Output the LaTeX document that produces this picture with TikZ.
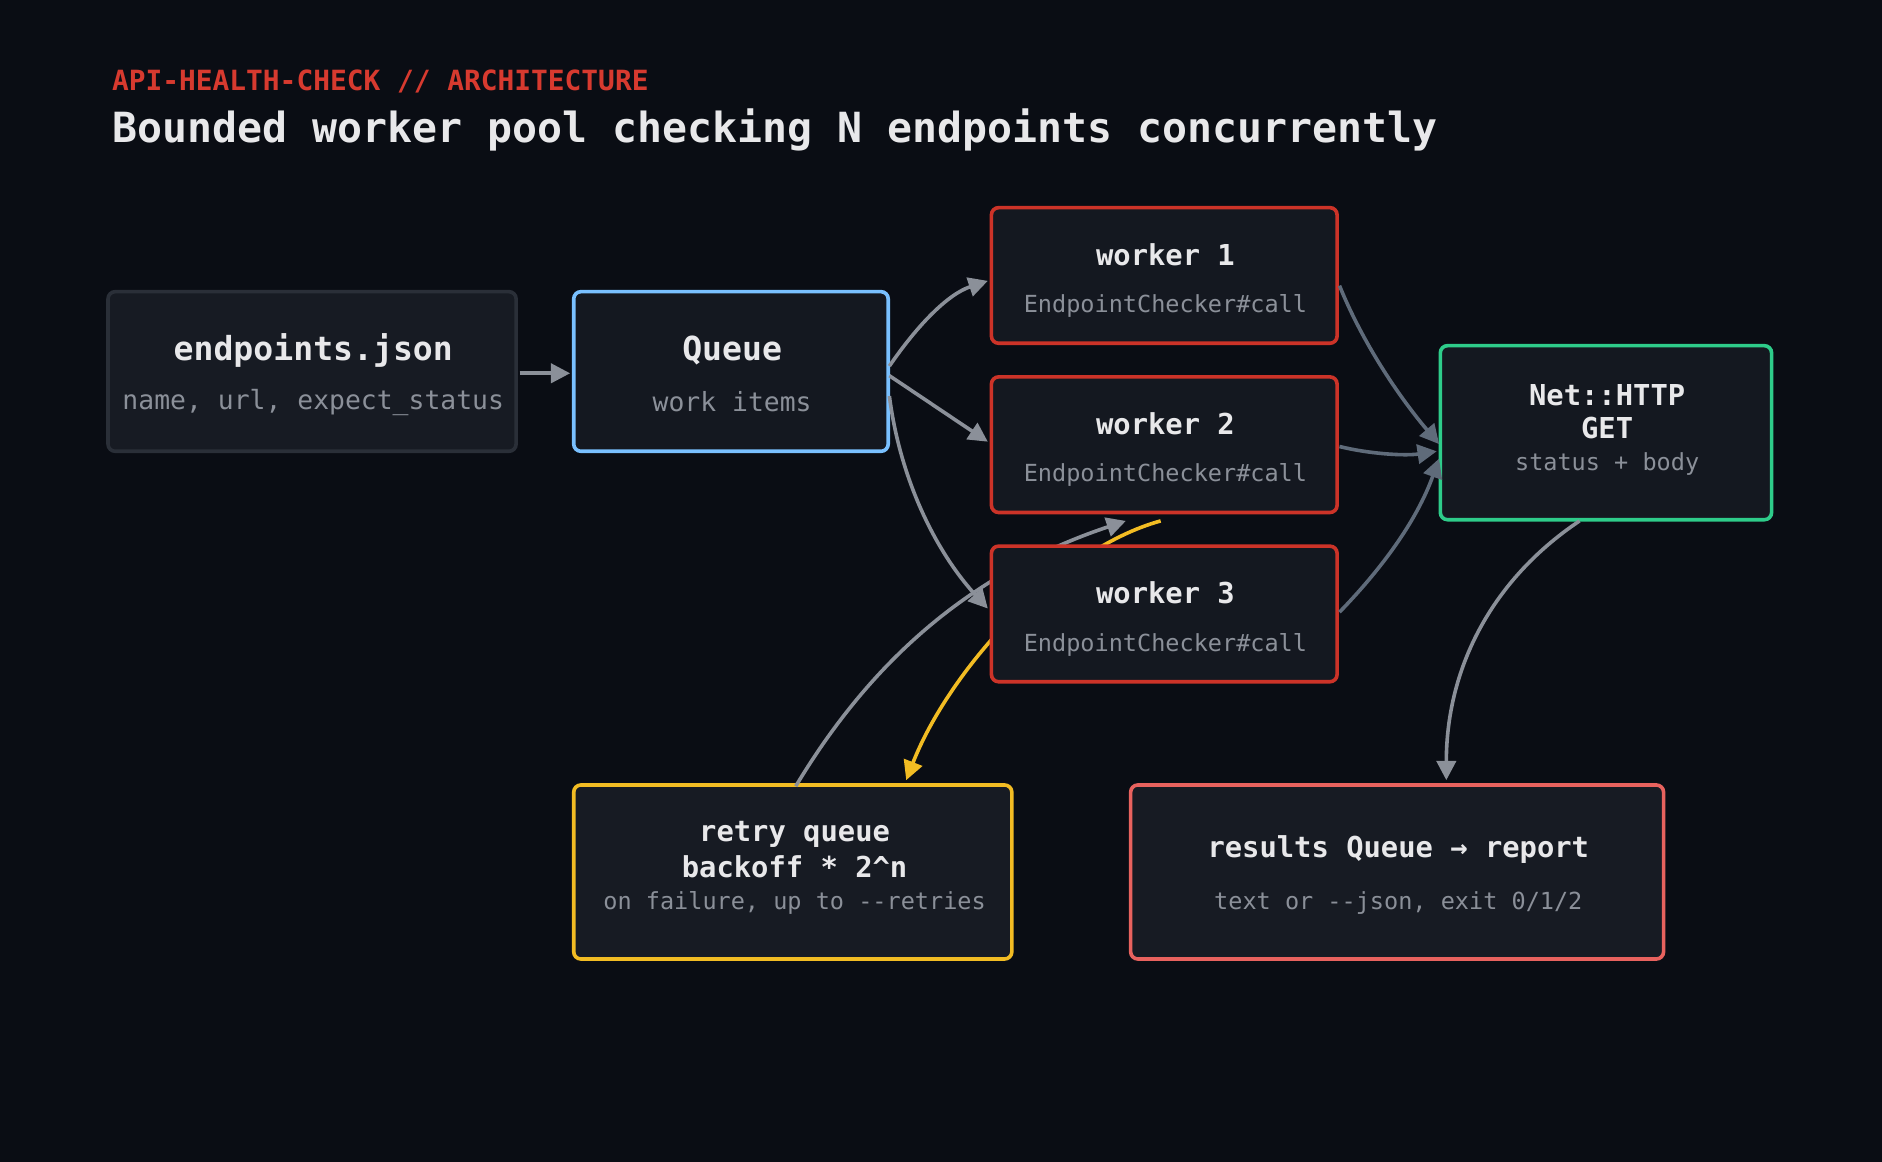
\documentclass[tikz,border=0pt]{standalone}
\usepackage{fontspec}
\setmainfont{DejaVu Sans Mono}
\usetikzlibrary{arrows.meta}
\definecolor{bg}{HTML}{0A0D14}
\definecolor{boxfill}{HTML}{141820}
\definecolor{boxfillB}{HTML}{171B23}
\definecolor{gedge}{HTML}{2A2F38}
\definecolor{qblue}{HTML}{79C0FF}
\definecolor{wred}{HTML}{CC3328}
\definecolor{ngreen}{HTML}{2ECC8A}
\definecolor{ryel}{HTML}{F2BC23}
\definecolor{rsal}{HTML}{E8625E}
\definecolor{tred}{HTML}{D73A2F}
\definecolor{twhite}{HTML}{E8E8EA}
\definecolor{tgray}{HTML}{8B9099}
\definecolor{agray}{HTML}{8B9099}
\definecolor{aslate}{HTML}{5F6B7A}
\begin{document}
\begin{tikzpicture}[x=0.5pt,y=-0.5pt,
  box/.style={draw, line width=1.5pt, rounded corners=3pt, anchor=north west, inner sep=0pt, outer sep=0pt},
  conn/.style={line width=1.5pt, -{Triangle[length=8pt,width=8pt]}},
  big/.style={font=\fontsize{13.8}{16}\selectfont\bfseries, text=twhite},
  mid/.style={font=\fontsize{12}{14}\selectfont\bfseries, text=twhite},
  subl/.style={font=\fontsize{11}{13}\selectfont, text=tgray},
  subs/.style={font=\fontsize{9.8}{12}\selectfont, text=tgray}]
\fill[bg] (0,0) rectangle (1568,968);
\useasboundingbox (0,0) rectangle (1568,968);
\node[anchor=base west, font=\fontsize{11.6}{14}\selectfont\bfseries, text=tred, inner sep=0pt] (kicker) at (93,75) {API-HEALTH-CHECK // ARCHITECTURE};
\node[anchor=base west, font=\fontsize{17.3}{21}\selectfont\bfseries, text=twhite, inner sep=0pt] (title) at (93,119) {Bounded worker pool checking N endpoints concurrently};
\node[box, draw=gedge, fill=boxfillB, minimum width=170pt, minimum height=66.5pt] (ep) at (90,243) {};
\node[box, draw=qblue, fill=boxfill, minimum width=131pt, minimum height=66.5pt] (q) at (478,243) {};
\node[box, draw=wred, fill=boxfill, minimum width=144pt, minimum height=56.5pt] (w1) at (826,173) {};
\node[box, draw=wred, fill=boxfill, minimum width=144pt, minimum height=56.5pt] (w2) at (826,314) {};
\node[box, draw=ngreen, fill=boxfill, minimum width=138pt, minimum height=72.5pt] (net) at (1200,288) {};
\node[box, draw=ryel, fill=boxfillB, minimum width=182.5pt, minimum height=72.5pt] (rq) at (478,654) {};
\node[box, draw=rsal, fill=boxfillB, minimum width=222pt, minimum height=72.5pt] (res) at (942,654) {};
\coordinate (w2b) at (967,434);
\coordinate (w2t) at (938,434);
\draw[conn, draw=ryel] (w2b) .. controls (880,458) and (790,560) .. (755,650);
\draw[conn, draw=agray] (663,655) .. controls (720,560) and (800,480) .. (w2t);
\draw[conn, draw=agray] (741,330) .. controls (750,400) and (780,460) .. (823,507);
\node[box, draw=wred, fill=boxfill, minimum width=144pt, minimum height=56.5pt] (w3) at (826,455) {};
\draw[conn, draw=agray] (433,311) -- (475,311);
\draw[conn, draw=agray] (741,305) .. controls (765,270) and (790,245) .. (823,234);
\draw[conn, draw=agray] (741,313) -- (823,368);
\draw[conn, draw=aslate] (1116,238) .. controls (1135,285) and (1165,330) .. (1199,370);
\draw[conn, draw=aslate] (1116,372) .. controls (1140,378) and (1170,380) .. (1197,376);
\draw[conn, draw=aslate] (1116,510) .. controls (1150,475) and (1180,435) .. (1199,382);
\draw[conn, draw=agray] (1316,434) .. controls (1240,485) and (1205,560) .. (1205,650);
\node[big] at (261,292) {endpoints.json};
\node[subl] at (261,335) {name, url, expect\_status};
\node[big] at (610,292) {Queue};
\node[subl] at (610,335) {work items};
\foreach \n/\y in {1/212,2/353,3/494}{
  \node[mid] at (971,\y) {worker \n};
  \node[subs] at (971,\y+43) {EndpointChecker\#call};
}
\node[mid] at (1339,329) {Net::HTTP};
\node[mid] at (1339,357) {GET};
\node[subs] at (1339,387) {status + body};
\node[mid] at (662,695) {retry queue};
\node[mid] at (662,722) {backoff * 2\^{}n};
\node[subs] at (662,752) {on failure, up to -{}-retries};
\node[mid] at (1165,708) {results Queue → report};
\node[subs] at (1165,752) {text or -{}-json, exit 0/1/2};
\end{tikzpicture}
\end{document}
